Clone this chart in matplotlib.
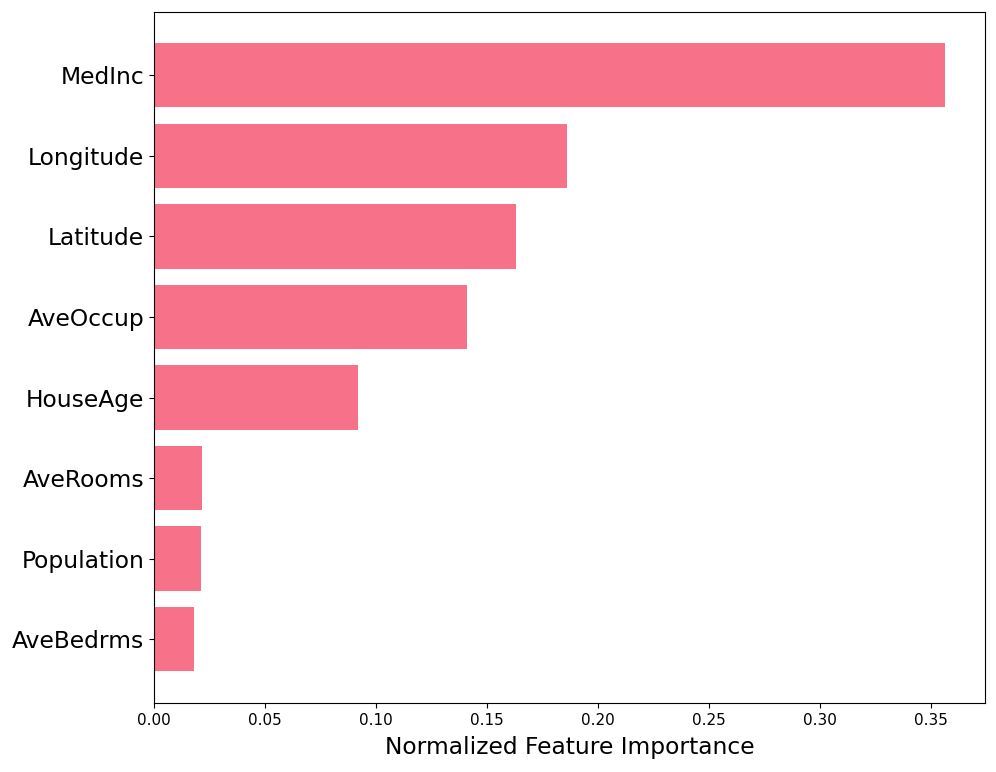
import matplotlib.pyplot as plt

features = ['MedInc', 'Longitude', 'Latitude', 'AveOccup', 'HouseAge',
            'AveRooms', 'Population', 'AveBedrms']
importance = [0.3566, 0.1862, 0.1632, 0.1411, 0.0920, 0.0216, 0.0212, 0.0180]

fig, ax = plt.subplots(figsize=(9.96, 7.72), dpi=100)
fig.subplots_adjust(left=0.1546, right=0.989, top=0.985, bottom=0.0895)

# reverse so the largest sits on top
ax.barh(features[::-1], importance[::-1], color='#f77189')

ax.set_xlabel('Normalized Feature Importance', fontsize=16.8, labelpad=6)
ax.tick_params(axis='y', labelsize=16.8)
ax.tick_params(axis='x', labelsize=11)

fig.savefig('out.png', dpi=100)
